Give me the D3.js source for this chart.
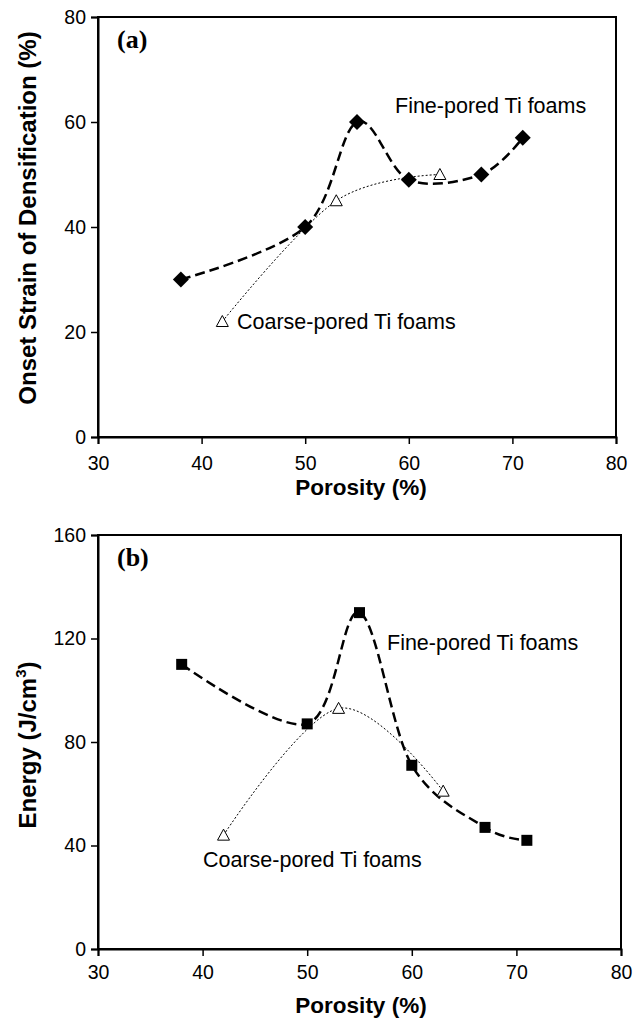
<!DOCTYPE html>
<html>
<head>
<meta charset="utf-8">
<script src="https://cdn.jsdelivr.net/npm/d3@7"></script>
<style>
  body { margin: 0; background: #fff; }
  svg { display: block; font-family: Arial, "Liberation Sans", sans-serif; }
</style>
</head>
<body>
<div id="chart"></div>
<script>
// data
var porosityFine = [38, 50, 55, 60, 67, 71];
var porosityCoarse = [42, 53, 63];
var strainFine = [30, 40, 60, 49, 50, 57];
var strainCoarse = [22, 45, 50];
var energyFine = [110, 87, 130, 71, 47, 42];
var energyCoarse = [44, 93, 61];
var xTicks = [30, 40, 50, 60, 70, 80];
var strainTicks = [0, 20, 40, 60, 80];
var energyTicks = [0, 40, 80, 120, 160];

var svg = d3.select("#chart")
  .append("svg")
    .attr("width", 641)
    .attr("height", 1019);

function panel(opt) {
  var x = d3.scaleLinear().domain([30, 80]).range([opt.left, opt.right]);
  var y = d3.scaleLinear().domain([0, opt.ymax]).range([opt.bottom, opt.top]);
  var g = svg.append("g");

  // frame
  g.append("rect")
    .attr("x", opt.left).attr("y", opt.top)
    .attr("width", opt.right - opt.left).attr("height", opt.bottom - opt.top)
    .attr("fill", "none").attr("stroke", "#000").attr("stroke-width", 2);

  // axes
  var xa = g.append("g")
    .attr("transform", "translate(0," + opt.bottom + ")")
    .call(d3.axisBottom(x).tickValues(xTicks).tickSize(7).tickPadding(opt.xPad));
  var ya = g.append("g")
    .attr("transform", "translate(" + opt.left + ",0)")
    .call(d3.axisLeft(y).tickValues(opt.yTicks).tickSize(7).tickPadding(5));
  [xa, ya].forEach(function(a) {
    a.select(".domain").attr("stroke-width", 2);
    a.selectAll(".tick line").attr("stroke-width", 1.5);
    a.selectAll(".tick text").style("font-size", "19.5px").attr("fill", "#000")
      .style("font-family", "Arial, 'Liberation Sans', sans-serif");
  });

  var lineGen = function(xs) {
    return d3.line()
      .curve(d3.curveCatmullRom.alpha(0))
      .x(function(d, i) { return x(xs[i]); })
      .y(function(d) { return y(d); });
  };

  // coarse series, dotted
  g.append("path")
    .datum(opt.coarse)
    .attr("fill", "none")
    .attr("stroke", "#000")
    .attr("stroke-width", 1)
    .attr("stroke-dasharray", "2,2")
    .attr("d", lineGen(porosityCoarse));

  // fine series, dashed
  g.append("path")
    .datum(opt.fine)
    .attr("fill", "none")
    .attr("stroke", "#000")
    .attr("stroke-width", 2.5)
    .attr("stroke-dasharray", "10,5")
    .attr("d", lineGen(porosityFine));

  // triangles
  g.selectAll(".tri")
    .data(opt.coarse)
    .enter().append("path")
    .attr("class", "tri")
    .attr("transform", function(d, i) { return "translate(" + x(porosityCoarse[i]) + "," + y(d) + ")"; })
    .attr("d", "M0,-6L6,5L-6,5Z")
    .attr("fill", "#fff")
    .attr("stroke", "#000")
    .attr("stroke-width", 1);

  // fine markers
  g.selectAll(".fm")
    .data(opt.fine)
    .enter().append("path")
    .attr("class", "fm")
    .attr("transform", function(d, i) { return "translate(" + x(porosityFine[i]) + "," + y(d) + ")"; })
    .attr("d", opt.marker)
    .attr("fill", "#000");

  // panel letter
  g.append("text")
    .attr("x", opt.left + 19).attr("y", opt.top + 31)
    .style("font-family", "'Times New Roman', 'Liberation Serif', serif")
    .style("font-weight", "bold").style("font-size", "26px")
    .text(opt.letter);

  // series labels
  g.append("text")
    .attr("x", opt.fineLab[0]).attr("y", opt.fineLab[1])
    .style("font-size", "21.5px")
    .text("Fine-pored Ti foams");
  g.append("text")
    .attr("x", opt.coarseLab[0]).attr("y", opt.coarseLab[1])
    .style("font-size", "21.5px")
    .text("Coarse-pored Ti foams");

  // x title
  g.append("text")
    .attr("x", 361).attr("y", opt.bottom + opt.xTitleOff)
    .attr("text-anchor", "middle")
    .style("font-size", "22.5px").style("font-weight", "bold")
    .text("Porosity (%)");

  // y title
  var yt = g.append("text")
    .attr("transform", "translate(36," + opt.yTitleMid + ") rotate(-90)")
    .attr("text-anchor", "middle")
    .style("font-size", "24px").style("font-weight", "bold");
  opt.yTitle(yt);
}

panel({
  left: 98, right: 616, top: 17, bottom: 437, ymax: 80,
  yTicks: strainTicks, fine: strainFine, coarse: strainCoarse,
  marker: "M0,-8L8,0L0,8L-8,0Z", letter: "(a)",
  fineLab: [395, 113], coarseLab: [237, 329],
  xPad: 12, xTitleOff: 58, yTitleMid: 218,
  yTitle: function(t) { t.text("Onset Strain of Densification (%)"); }
});

panel({
  left: 98, right: 621, top: 535, bottom: 949, ymax: 160,
  yTicks: energyTicks, fine: energyFine, coarse: energyCoarse,
  marker: "M-5.5,-5.5H5.5V5.5H-5.5Z", letter: "(b)",
  fineLab: [387, 650], coarseLab: [203, 867],
  xPad: 9, xTitleOff: 64, yTitleMid: 745,
  yTitle: function(t) {
    t.append("tspan").text("Energy (J/cm");
    t.append("tspan").attr("dy", -10).style("font-size", "15px").text("3");
    t.append("tspan").attr("dy", 10).text(")");
  }
});
</script>
</body>
</html>
